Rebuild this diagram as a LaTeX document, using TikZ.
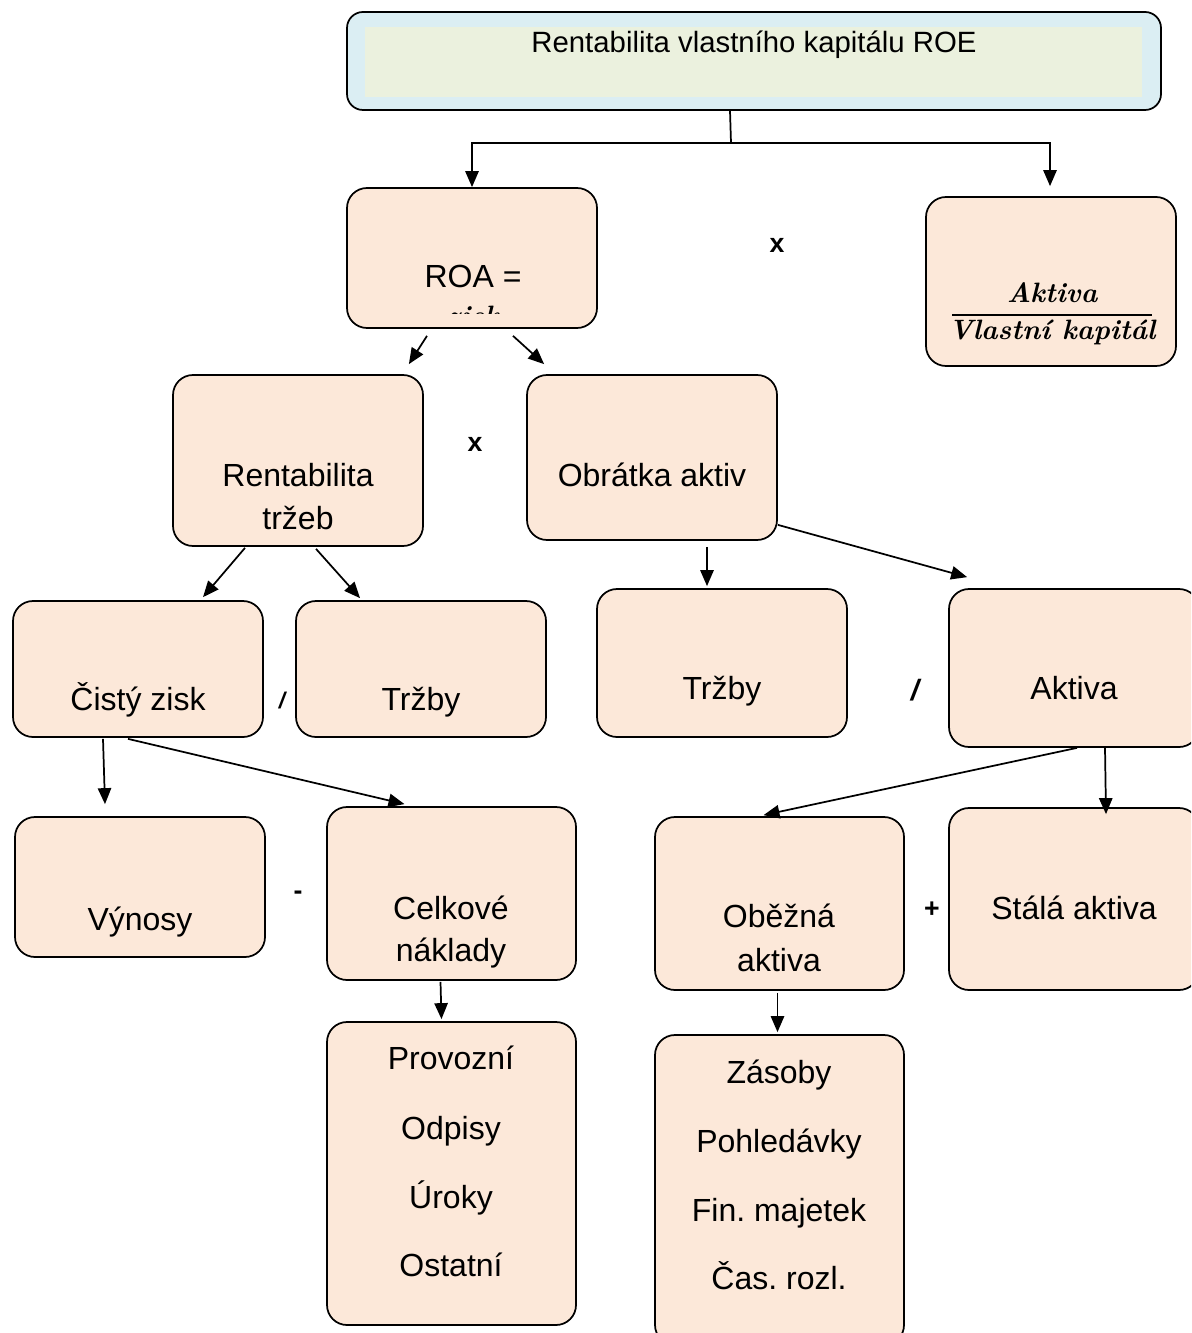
\documentclass[tikz,border=0pt]{standalone}
\usepackage{fontspec}
\newfontfamily\arial{Liberation Sans}
\usetikzlibrary{arrows.meta,calc,fit}
\definecolor{peach}{RGB}{252,232,217}
\definecolor{roeblue}{RGB}{219,238,243}
\definecolor{roegreen}{RGB}{235,241,222}
\frenchspacing

\begin{document}
\begin{tikzpicture}[x=0.75pt,y=-0.75pt,
  box/.style={draw=black, line width=1.3pt, fill=peach, rounded corners=15pt, inner sep=0pt},
  lbl/.style={font=\arial\fontsize{24}{28}\selectfont, anchor=base, inner sep=0pt},
  fr/.style={font=\bfseries\itshape\fontsize{21}{26}\selectfont, anchor=base, inner sep=0pt},
  op/.style={font=\arial\bfseries\fontsize{20}{22}\selectfont, inner sep=0pt},
  link/.style={line width=1.3pt},
  arr/.style={link, -{Triangle[length=12pt,width=10pt]}}]

\useasboundingbox (0,0) rectangle (1191,1333);
\clip (0,0) rectangle (1191,1333);

% ROE header
\node[draw=black, line width=1.3pt, fill=roeblue, rounded corners=12pt, inner sep=0pt,
      fit={(347,12)(1161,110)}] (roe) {};
\node[fill=roegreen, inner sep=0pt, fit={(365,27)(1142,97)}] (roein) {};
\node[lbl, font=\arial\fontsize{22}{26}\selectfont] (roeT) at (754,53) {Rentabilita vlastního kapitálu ROE};

% level 1
\node[box, fit={(347,188)(597,328)}] (roa) {};
\node[lbl] (roaT) at (473,288) {ROA =};
\begin{scope}
  \clip (420,304) rectangle (530,314);
  \node[fr] (roaZ) at (473,326) {zisk};
\end{scope}

\node[box, fit={(926,197)(1176,366)}] (av) {};
\node[fr] (avN) at (1052,303) {Aktiva};
\draw[line width=1.4pt] (952,315) -- (1152,315);
\node[fr] (avD) at (1052,340) {Vlastní kapitál};

\node[op] (x1) at (777,245) {x};

% level 2
\node[box, fit={(173,375)(423,546)}] (rt) {};
\node[lbl] (rtA) at (298,486) {Rentabilita};
\node[lbl] (rtB) at (298,529) {tržeb};

\node[box, fit={(527,375)(777,540)}] (oa) {};
\node[lbl] (oaT) at (652,486) {Obrátka aktiv};

\node[op] (x2) at (475,444) {x};

% level 3
\node[box, fit={(13,601)(263,737)}] (cz) {};
\node[lbl] (czT) at (138,710) {Čistý zisk};

\node[box, fit={(296,601)(546,737)}] (tr1) {};
\node[lbl] (tr1T) at (421,710) {Tržby};

\node[op, font=\arial\bfseries\itshape\fontsize{17}{19}\selectfont] (d1) at (282,701) {/};

\node[box, fit={(597,589)(847,737)}] (tr2) {};
\node[lbl] (tr2T) at (722,699) {Tržby};

\node[box, fit={(949,589)(1199,747)}] (ak) {};
\node[lbl] (akT) at (1074,699) {Aktiva};

\node[op, font=\arial\bfseries\itshape\fontsize{22}{24}\selectfont] (d2) at (915,690) {/};

% level 4
\node[box, fit={(15,817)(265,957)}] (vy) {};
\node[lbl] (vyT) at (140,930) {Výnosy};

\node[box, fit={(327,807)(576,980)}] (cn) {};
\node[lbl] (cnA) at (451,919) {Celkové};
\node[lbl] (cnB) at (451,961) {náklady};

\node[op] (m1) at (298,895) {-};

\node[box, fit={(655,817)(904,990)}] (ob) {};
\node[lbl] (obA) at (779,927) {Oběžná};
\node[lbl] (obB) at (779,971) {aktiva};

\node[box, fit={(949,808)(1199,990)}] (sa) {};
\node[lbl] (saT) at (1074,919) {Stálá aktiva};

\node[op] (p1) at (932,910) {+};

% level 5
\node[box, fit={(327,1022)(576,1325)}] (pr) {};
\node[lbl] (prA) at (451,1069) {Provozní};
\node[lbl] (prB) at (451,1139) {Odpisy};
\node[lbl] (prC) at (451,1208) {Úroky};
\node[lbl] (prD) at (451,1276) {Ostatní};

\node[box, fit={(655,1035)(904,1345)}] (zs) {};
\node[lbl] (zsA) at (779,1083) {Zásoby};
\node[lbl] (zsB) at (779,1152) {Pohledávky};
\node[lbl] (zsC) at (779,1221) {Fin. majetek};
\node[lbl] (zsD) at (779,1289) {Čas. rozl.};

% connectors
\coordinate (split) at (731,143);
\draw[link] ($(roe.south)+(-24,0)$) -- (split);
\draw[arr] (split) -| (roa.north);
\draw[arr] (split) -| ($(av.north)+(-1,-10)$);

\draw[arr] ($(roa.south)+(-45,7)$) -- ($(rt.north east)+(-15,-10)$);
\draw[arr] ($(roa.south)+(41,7)$) -- ($(oa.north west)+(18,-10)$);

\draw[arr] ($(rt.south)+(-53,1)$) -- ($(cz.north)+(65,-3)$);
\draw[arr] ($(rt.south)+(18,2)$) -- ($(tr1.north)+(-61,-2)$);

\draw[arr] ($(oa.south)+(55,6)$) -- ($(tr2.north)+(-15,-2)$);
\draw[arr] ($(oa.south east)+(0,-16)$) -- ($(ak.north west)+(19,-11)$);

\draw[arr] ($(cz.south)+(-35,1)$) -- ($(vy.north)+(-35,-12)$);
\draw[arr] ($(cz.south)+(-10,1)$) -- ($(cn.north)+(-47,-2)$);

\draw[arr] ($(cn.south)+(-11,1)$) -- ($(pr.north)+(-10,-2)$);

\draw[arr] ($(ak.south)+(3,0)$) -- ($(ob.north)+(-16,-1)$);
\draw[arr] ($(ak.south)+(31,0)$) -- ($(sa.north)+(32,7)$);

\draw[arr] ($(ob.south)+(-2,2)$) -- ($(zs.north)+(-2,-2)$);
\end{tikzpicture}
\end{document}
